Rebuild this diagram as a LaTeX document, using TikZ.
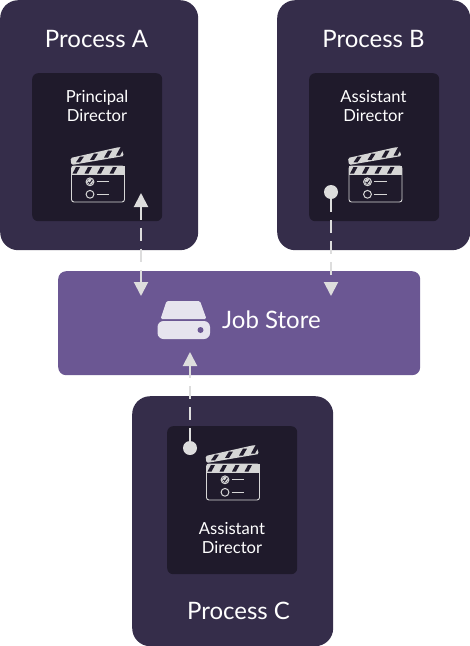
\documentclass[tikz,border=0pt]{standalone}
\usepackage{fontspec}
\setmainfont{Lato}
\usetikzlibrary{arrows.meta}
\definecolor{procbg}{HTML}{352D4A}
\definecolor{innerbg}{HTML}{1F1A2B}
\definecolor{storebg}{HTML}{6B5793}
\definecolor{iconfg}{HTML}{E6E4EE}
\definecolor{clapfg}{HTML}{D6D6D6}
\definecolor{linkfg}{HTML}{DDDDDD}
\tikzset{
  procbox/.style={anchor=north west,fill=procbg,rounded corners=18pt,inner sep=0pt},
  innerbox/.style={anchor=north west,fill=innerbg,rounded corners=6pt,inner sep=0pt,minimum width=130pt},
  storebox/.style={anchor=north west,fill=storebg,rounded corners=8pt,inner sep=0pt,minimum width=362pt,minimum height=104pt},
  title/.style={text=white,font=\fontsize{24}{28}\selectfont,inner sep=0pt},
  caption/.style={text=white,font=\fontsize{16.6}{19}\selectfont,align=center,inner sep=0pt},
  dot/.style={circle,fill=linkfg,inner sep=0pt,minimum size=14pt},
  link/.style={linkfg,line width=2pt,dash pattern=on 13pt off 8pt,
    tips=true,>={Triangle[length=14pt,width=14pt]}},
  pics/clapper/.style={code={
    \draw [clapfg,line width=.9pt,rounded corners=2.5pt] (0,0) rectangle (53,36);
    \fill [clapfg] (0,0) rectangle (53,8.5);
    \foreach \x in {3,15,27.5,40} {
      \fill [innerbg] (\x-2,7.5) -- (\x+2,7.5) -- (\x+5.5,1) -- (\x+1.5,1) -- cycle;
    }
    \fill [clapfg,rounded corners=1.5pt] (0,-1) -- (-1,-8) -- (47,-18.8) -- (49.5,-18.8) -- (52.5,-10) -- cycle;
    \foreach \x in {7,21,35,47} {
      \fill [innerbg] ({\x-2.5},{-2.5-.17*\x}) -- ({\x+1.5},{-2.5-.17*\x}) -- ({\x+5.5},{-8-.21*\x}) -- ({\x+1.5},{-8-.21*\x}) -- cycle;
    }
    \draw [clapfg,line width=1pt] (18.5,15.8) circle (3.9);
    \fill [clapfg] (18.5,15.8) circle (3);
    \draw [innerbg,line width=.9pt] (16.7,15.8) -- (18.1,17.4) -- (20.5,14.2);
    \draw [clapfg,line width=1pt] (18.5,28.3) circle (3.9);
    \draw [clapfg,line width=1pt] (25,15.8) -- (37.5,15.8);
    \draw [clapfg,line width=1pt] (25,28.3) -- (37.5,28.3);
  }}
}
\begin{document}
\begin{tikzpicture}[x=1pt,y=-1pt]
  \useasboundingbox (0,0) rectangle (470,646);
  \node (procA) [procbox,minimum width=198pt,minimum height=250pt] at (0,0) {};
  \node (procB) [procbox,minimum width=193pt,minimum height=250pt] at (277,0) {};
  \node (procC) [procbox,minimum width=201pt,minimum height=250pt] at (132,396) {};
  \node (innerA) [innerbox,minimum height=148pt] at (32,73) {};
  \node (innerB) [innerbox,minimum height=148pt] at (309,73) {};
  \node (innerC) [innerbox,minimum height=148pt] at (167,426) {};
  \node (store) [storebox] at (58,271) {};

  \node (titleA) [title] at (96.5,39) {Process A};
  \node (titleB) [title] at (373.5,39) {Process B};
  \node (titleC) [title] at (238.5,611) {Process C};
  \node (titleS) [title,anchor=west] at (222,320) {Job Store};
  \node (capA) [caption] at (97,106) {Principal\\Director};
  \node (capB) [caption] at (373.5,106) {Assistant\\Director};
  \node (capC) [caption] at (232,538) {Assistant\\Director};

  \pic at (71.5,166) {clapper};
  \pic at (349,166) {clapper};
  \pic at (206.5,464) {clapper};

  % database icon
  \fill [iconfg,rounded corners=1.5pt] (160.5,319) -- (166.5,301) -- (200,301) -- (206.5,319) -- cycle;
  \fill [iconfg,rounded corners=6pt] (157.5,321) rectangle (210,339);
  \fill [storebg] (200.5,330) circle (3);

  \node (dotB) [dot] at (331,192) {};
  \node (dotC) [dot] at (190,448) {};
  \coordinate (topA) at (141,193);
  \coordinate (botA) at (141,296);
  \coordinate (botB) at (331,296);
  \coordinate (topC) at (190,352);
  \draw [link,<->] (topA) -- (botA);
  \draw [link,->] (dotB) -- (botB);
  \draw [link,->] (dotC) -- (topC);
\end{tikzpicture}
\end{document}
